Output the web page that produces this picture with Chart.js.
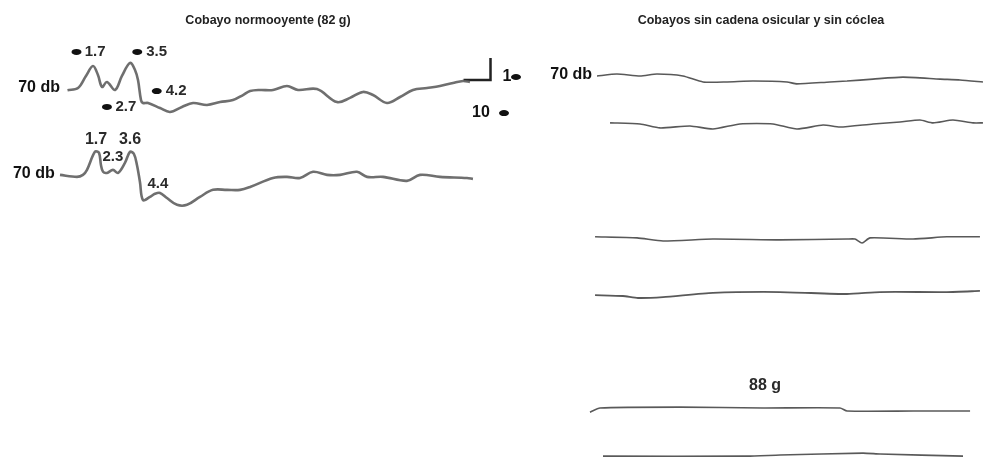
<!DOCTYPE html>
<html>
<head>
<meta charset="utf-8">
<script src="https://cdn.jsdelivr.net/npm/chart.js@4.4.1/dist/chart.umd.min.js"></script>
<style>
    html, body { margin: 0; padding: 0; background: #fff; }
    #wrap { position: relative; width: 984px; height: 458px; }
    .panel { position: absolute; top: 0; height: 458px; }
    #left { left: 0; width: 536px; }
    #right { left: 536px; width: 448px; }
</style>
</head>
<body>
<div id="wrap">
    <div class="panel" id="left"><canvas id="leftChart" width="536" height="458"></canvas></div>
    <div class="panel" id="right"><canvas id="rightChart" width="448" height="458"></canvas></div>
</div>
<script>
// time in ms, amplitude in µV (relative to each trace's baseline)
var normalTopTime = [0, 0.7, 1.23, 1.7, 2.03, 2.3, 2.63, 3.17, 3.63, 4.17, 4.5, 4.7, 4.9, 5.03, 5.37, 6.17, 6.83, 7.63, 8.37, 9.3, 10.17, 11.03, 11.7, 12.17, 12.83, 13.7, 14.63, 15.37, 16.63, 17.97, 18.83, 19.7, 20.37, 21.3, 22.17, 23.03, 23.97, 24.83, 25.7, 26.37, 26.83];
var normalTopAmp = [-0.1, 0, 0.55, 1.0, 0.59, 0.05, 0.27, -0.09, 0.55, 1.14, 0.82, 0.36, -0.55, -0.68, -0.68, -0.91, -1.09, -0.86, -0.68, -0.77, -0.64, -0.55, -0.32, -0.14, -0.09, -0.09, 0.09, -0.09, -0.05, -0.64, -0.45, -0.18, -0.32, -0.68, -0.41, -0.09, 0, 0.09, 0.23, 0.32, 0.27];

var normalBottomTime = [-0.5, 0.63, 1.03, 1.3, 1.83, 2.1, 2.23, 2.37, 2.63, 3.03, 3.37, 3.83, 4.17, 4.43, 4.63, 4.83, 5.03, 5.5, 5.83, 6.17, 6.63, 7.3, 7.97, 8.83, 9.7, 10.63, 11.5, 12.17, 13.7, 14.63, 15.5, 16.37, 17.3, 18.17, 19.3, 19.97, 21.03, 22.63, 23.5, 24.83, 26.63, 27.03];
var normalBottomAmp = [0, -0.09, 0, 0.23, 1.05, 1.0, 0.45, 0.14, 0.09, 0.23, 0.09, 0.55, 1.05, 0.95, 0.45, -0.32, -1.14, -1.0, -0.86, -0.82, -1.05, -1.36, -1.36, -1.0, -0.68, -0.68, -0.68, -0.55, -0.14, -0.09, -0.14, 0.14, 0, 0, 0.14, -0.09, -0.09, -0.27, 0, -0.09, -0.14, -0.18];

var scaleBarTime = [26.4, 28.2, 28.2];
var scaleBarAmp = [0.36, 0.36, 1.36];

var deaf1Time = [0, 1.33, 2.87, 4.0, 5.73, 7.07, 8.67, 10.4, 12.67, 13.33, 15.53, 16.67, 18.4, 20.4, 22.87, 24.2, 25.73];
var deaf1Amp = [0, 0.09, 0, 0.09, 0, -0.27, -0.27, -0.23, -0.27, -0.36, -0.27, -0.23, -0.14, -0.05, -0.14, -0.18, -0.27];
var deaf2Time = [0.87, 2.87, 4.2, 6.2, 7.73, 9.53, 11.73, 13.33, 15.07, 16.2, 18.4, 20.2, 21.53, 22.4, 23.73, 25.07, 25.73];
var deaf2Amp = [0.05, 0, -0.18, -0.09, -0.23, 0, 0, -0.23, -0.05, -0.14, 0, 0.09, 0.18, 0.05, 0.18, 0.05, 0.05];
var deaf3Time = [-0.13, 2.67, 4.4, 7.73, 12.2, 16.67, 17.2, 17.67, 18.2, 21.07, 23.33, 25.53];
var deaf3Amp = [0.05, 0, -0.14, -0.05, -0.09, -0.05, -0.05, -0.23, 0, -0.05, 0.05, 0.05];
var deaf4Time = [-0.13, 1.73, 2.73, 4.4, 7.73, 12.2, 16.67, 18.87, 23.33, 25.53];
var deaf4Amp = [-0.05, -0.09, -0.18, -0.14, 0.05, 0.09, 0, 0.09, 0.09, 0.14];
var deaf5Time = [-0.47, 0.2, 5.53, 11.07, 16.2, 16.67, 21.07, 24.87];
var deaf5Amp = [-0.14, 0.05, 0.09, 0.05, 0.05, -0.09, -0.09, -0.09];
var deaf6Time = [0.4, 10.0, 12.2, 17.73, 18.87, 24.4];
var deaf6Amp = [-0.05, -0.05, 0, 0.09, 0.05, -0.05];

// vertical offsets used to stack the traces
var normalOffsets = [0, -3.95];
var deafOffsets = [0, -2.18, -7.36, -9.91, -15.14, -17.23];

function toPoints(time, amp, offset) {
    return time.map(function (t, i) { return { x: t, y: amp[i] + offset }; });
}

function traceSet(time, amp, offset, color, width, tension) {
    return {
        data: toPoints(time, amp, offset),
        borderColor: color,
        borderWidth: width,
        pointRadius: 0,
        tension: tension,
        fill: false
    };
}

function drawMarker(ctx, x, y) {
    ctx.fillStyle = "#111";
    ctx.beginPath();
    ctx.ellipse(x, y, 5, 3, 0, 0, Math.PI * 2);
    ctx.fill();
}

var textPlugin = {
    id: "textLabels",
    afterDatasetsDraw: function (chart) {
        var ctx = chart.ctx, xs = chart.scales.x, ys = chart.scales.y;
        var labels = chart.options.plugins.textLabels.items;
        ctx.save();
        labels.forEach(function (l) {
            var px = xs.getPixelForValue(l.x), py = ys.getPixelForValue(l.y);
            ctx.font = l.font || "bold 15px 'Liberation Sans', Arial, sans-serif";
            ctx.fillStyle = l.color || "#2a2a2a";
            ctx.textAlign = l.align || "left";
            ctx.textBaseline = "middle";
            ctx.fillText(l.text, px, py);
            if (l.marker !== undefined) {
                drawMarker(ctx, xs.getPixelForValue(l.marker), py);
            }
        });
        var title = chart.options.plugins.textLabels.title;
        ctx.font = "bold 12.5px 'Liberation Sans', Arial, sans-serif";
        ctx.fillStyle = "#222";
        ctx.textAlign = "center";
        ctx.fillText(title.text, title.cx, 21);
        ctx.restore();
    }
};

function baseOptions(xmin, xmax, ymin, ymax, items, title) {
    return {
        responsive: false,
        animation: false,
        layout: { padding: 0 },
        scales: {
            x: { type: "linear", min: xmin, max: xmax, display: false },
            y: { type: "linear", min: ymin, max: ymax, display: false }
        },
        plugins: {
            legend: { display: false },
            tooltip: { enabled: false },
            textLabels: { items: items, title: title }
        }
    };
}

document.addEventListener("DOMContentLoaded", function () {
    var gray = "rgba(95,95,95,0.9)";
    var dark = "rgba(60,60,60,0.85)";
    var big = "bold 16px 'Liberation Sans', Arial, sans-serif";

    // Normal hearing guinea pig
    var leftCtx = document.getElementById("leftChart").getContext("2d");
    new Chart(leftCtx, {
        type: "line",
        data: {
            datasets: [
                traceSet(normalTopTime, normalTopAmp, normalOffsets[0], gray, 2.6, 0.35),
                traceSet(normalBottomTime, normalBottomAmp, normalOffsets[1], gray, 2.6, 0.35),
                traceSet(scaleBarTime, scaleBarAmp, 0, "#222", 2.5, 0)
            ]
        },
        options: baseOptions(-4.5, 31.233, -16.818, 4.0, [
            { text: "70 db", x: -0.5, y: 0, align: "right", font: big, color: "#111" },
            { text: "70 db", x: -0.85, y: -3.91, align: "right", font: big, color: "#111" },
            { text: "1.7", x: 1.15, y: 1.64, marker: 0.6 },
            { text: "3.5", x: 5.25, y: 1.64, marker: 4.65 },
            { text: "4.2", x: 6.55, y: -0.14, marker: 5.95 },
            { text: "2.7", x: 3.2, y: -0.86, marker: 2.63 },
            { text: "1.7", x: 1.9, y: -2.36, align: "center", font: big },
            { text: "2.3", x: 3.03, y: -3.14, align: "center" },
            { text: "3.6", x: 4.17, y: -2.36, align: "center", font: big },
            { text: "4.4", x: 6.03, y: -4.36, align: "center" },
            { text: "1", x: 29.0, y: 0.5, marker: 29.9, font: big, color: "#111" },
            { text: "10", x: 26.97, y: -1.14, marker: 29.1, font: big, color: "#111" }
        ], { text: "Cobayo normooyente (82 g)", cx: 268 }),
        plugins: [textPlugin]
    });

    // Guinea pigs without ossicular chain and cochlea
    var rightCtx = document.getElementById("rightChart").getContext("2d");
    new Chart(rightCtx, {
        type: "line",
        data: {
            datasets: [
                traceSet(deaf1Time, deaf1Amp, deafOffsets[0], dark, 1.6, 0.2),
                traceSet(deaf2Time, deaf2Amp, deafOffsets[1], dark, 1.6, 0.2),
                traceSet(deaf3Time, deaf3Amp, deafOffsets[2], dark, 1.6, 0.2),
                traceSet(deaf4Time, deaf4Amp, deafOffsets[3], dark, 1.8, 0.2),
                traceSet(deaf5Time, deaf5Amp, deafOffsets[4], dark, 1.6, 0.2),
                traceSet(deaf6Time, deaf6Amp, deafOffsets[5], dark, 1.6, 0.2)
            ]
        },
        options: baseOptions(-4.0667, 25.8, -17.3636, 3.4545, [
            { text: "70 db", x: -0.33, y: 0.05, align: "right", font: big, color: "#111" },
            { text: "88 g", x: 11.2, y: -14.05, align: "center", font: big }
        ], { text: "Cobayos sin cadena osicular y sin cóclea", cx: 225 }),
        plugins: [textPlugin]
    });
});
</script>
</body>
</html>
